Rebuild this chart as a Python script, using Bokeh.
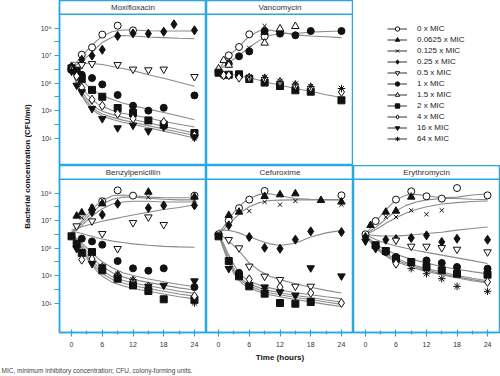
import numpy as np
from bokeh.plotting import figure
from bokeh.layouts import row, column
from bokeh.models import FixedTicker, Span, Legend, LegendItem, Range1d
from bokeh.core.properties import value
from bokeh.embed import file_html
from bokeh.resources import INLINE

N = None

# ---------------- data (log10 CFU/ml) ----------------
TIMES = [0, 1, 2, 4, 6, 9, 12, 15, 18, 20, 24]
FIT_TIMES = [0, 1, 2, 3, 4, 5, 6, 8, 10, 12, 15, 18, 21, 24]

SERIES_LABELS = ["0 x MIC", "0.0625 x MIC", "0.125 x MIC", "0.25 x MIC", "0.5 x MIC",
                 "1 x MIC", "1.5 x MIC", "2 x MIC", "4 x MIC", "16 x MIC", "64 x MIC"]
PANEL_TITLES = ["Moxifloxacin", "Vancomycin", "Benzylpenicillin", "Cefuroxime", "Erythromycin"]
X_TICKS = [0, 6, 12, 18, 24]
X_MINOR_TICKS = [3, 9, 15, 21]
Y_TICK_EXPONENTS = [1, 3, 5, 7, 9]
Y_TICK_LABELS = ["10\u00b9", "10\u00b3", "10\u2075", "10\u2077", "10\u2079"]
Y_MINOR_EXPONENTS = [2, 4, 6, 8]
Y_LABEL = "Bacterial concentration (CFU/ml)"
X_LABEL = "Time (hours)"
FOOTNOTE = "MIC, minimum inhibitory concentration; CFU, colony-forming units."

EMPTY = [N] * 11

MOX_POINTS = [
    [6.10, N, 7.06, 7.59, 8.52, 9.17, 8.83, N, N, N, N],
    EMPTY,
    EMPTY,
    [6.20, N, 6.70, 6.99, 7.42, 8.42, 8.61, 8.59, 8.73, 9.27, 8.83],
    [6.15, N, 6.33, 6.40, N, 6.33, 6.00, 5.95, 6.00, N, 5.46],
    [6.00, N, 5.60, 5.36, 4.90, 4.13, 3.35, 2.99, 3.20, N, 4.10],
    EMPTY,
    [6.04, 5.90, 5.30, 4.50, 4.00, 3.18, 2.82, 2.28, 1.97, N, 1.36],
    [5.95, 5.50, 4.66, 3.79, 3.35, 2.77, 2.41, N, 2.16, N, 1.20],
    [5.85, 4.83, 4.35, 3.13, 2.40, 1.73, 1.92, 1.51, 1.80, N, 1.07],
    [5.90, N, N, N, N, N, N, N, N, N, 1.00],
]
MOX_FITS = [
    [6.10, 6.50, 6.95, 7.35, 7.75, 8.10, 8.40, 8.75, 8.85, 8.85, 8.80, 8.78, 8.78, 8.78],
    [6.10, 6.35, 6.60, 6.90, 7.20, 7.60, 7.95, 8.35, 8.45, 8.42, 8.35, 8.30, 8.25, 8.22],
    [6.50, 6.50, 6.45, 6.42, 6.40, 6.38, 6.35, 6.20, 6.05, 5.90, 5.60, 5.35, 5.05, 4.76],
    [6.00, 5.60, 5.20, 4.85, 4.55, 4.30, 4.10, 3.80, 3.55, 3.35, 3.10, 2.85, 2.60, 2.33],
    [6.00, 5.30, 4.70, 4.20, 3.80, 3.50, 3.30, 3.00, 2.80, 2.65, 2.45, 2.20, 2.00, 1.80],
    [6.00, 5.10, 4.40, 3.85, 3.45, 3.15, 2.95, 2.70, 2.50, 2.35, 2.10, 1.85, 1.60, 1.36],
    [6.00, 5.00, 4.20, 3.65, 3.25, 2.95, 2.75, 2.50, 2.30, 2.15, 1.90, 1.65, 1.42, 1.20],
    [6.00, 4.90, 4.05, 3.50, 3.10, 2.80, 2.60, 2.35, 2.15, 2.00, 1.75, 1.50, 1.25, 1.00],
]

VAN_POINTS = [
    [5.80, 5.56, 7.01, 7.62, 8.54, 8.39, N, N, N, N, N],
    [N, N, N, N, N, 8.70, 8.88, N, N, N, N],
    [N, N, 6.65, N, 7.55, 9.15, N, N, N, N, N],
    EMPTY,
    EMPTY,
    [N, N, 6.40, 6.94, 7.30, 8.78, 8.59, 8.47, 8.78, N, 8.78],
    [6.04, 6.65, 6.30, N, N, 7.91, 8.95, 9.12, N, N, N],
    [5.75, N, 5.60, 5.63, 5.29, 5.03, 4.78, 4.47, 4.37, N, 3.74],
    [N, 5.56, 5.56, 5.39, 5.39, 5.32, 5.07, 4.83, 4.66, N, 4.35],
    EMPTY,
    [N, N, N, N, 5.45, 5.40, 5.12, 4.92, 4.75, N, 4.60],
]
VAN_FITS = [
    [5.90, 6.50, 7.00, 7.30, 7.60, 8.05, 8.40, 8.80, 8.85, 8.70, 8.50, 8.42, 8.36, 8.30],
    [5.90, 6.20, 6.50, 6.75, 7.00, 7.30, 7.60, 8.10, 8.45, 8.60, 8.60, 8.70, 8.75, 8.78],
    [5.85, 5.75, 5.65, 5.60, 5.55, 5.45, 5.38, 5.20, 5.00, 4.85, 4.60, 4.40, 4.15, 3.95],
]

BZ_POINTS = [
    [N, N, N, N, 8.40, 9.19, 8.81, N, N, N, 8.81],
    [N, 7.33, 7.57, 7.90, 8.22, N, N, 9.07, N, N, 8.71],
    [N, 6.60, 7.20, 8.00, 8.50, N, N, 8.70, N, N, 8.50],
    [N, N, N, 7.62, 7.42, 8.22, N, 7.91, 8.10, N, 8.10],
    [N, 6.60, N, 6.96, 6.04, 4.95, 6.84, 7.25, 6.70, N, N],
    [N, N, 5.68, 5.48, 5.24, 4.05, 3.52, 3.35, 3.52, N, 2.16],
    EMPTY,
    [5.85, 5.30, 4.64, 4.71, 3.38, 2.77, 2.28, 1.87, 1.27, N, 1.24],
    [N, N, 4.15, 4.20, 3.60, 3.00, 2.60, 2.20, N, N, 1.50],
    [N, 4.95, N, 3.86, 3.62, 2.84, 2.36, 2.21, 2.28, N, 2.60],
    [N, N, N, N, 3.50, 3.10, 2.70, N, N, N, 1.00],
]
BZ_FITS = [
    [6.10, 6.50, 6.95, 7.40, 7.80, 8.15, 8.45, 8.80, 8.85, 8.80, 8.70, 8.65, 8.65, 8.65],
    [6.10, 6.40, 6.80, 7.20, 7.55, 7.90, 8.20, 8.55, 8.70, 8.70, 8.62, 8.55, 8.50, 8.50],
    [6.10, 6.35, 6.65, 7.00, 7.30, 7.60, 7.85, 8.20, 8.35, 8.40, 8.40, 8.35, 8.35, 8.35],
    [6.30, 6.40, 6.55, 6.65, 6.75, 6.85, 6.95, 7.10, 7.25, 7.40, 7.60, 7.80, 7.95, 8.15],
    [6.20, 6.15, 6.05, 5.95, 5.85, 5.75, 5.65, 5.50, 5.40, 5.30, 5.20, 5.12, 5.08, 5.05],
    [6.00, 5.70, 5.35, 5.00, 4.65, 4.30, 4.00, 3.55, 3.20, 3.00, 2.75, 2.55, 2.35, 2.20],
    [6.00, 5.60, 5.20, 4.75, 4.35, 3.95, 3.65, 3.20, 2.90, 2.70, 2.50, 2.30, 2.10, 1.95],
    [6.00, 5.55, 5.05, 4.55, 4.10, 3.70, 3.35, 2.90, 2.65, 2.45, 2.25, 2.05, 1.85, 1.70],
    [6.00, 5.50, 4.95, 4.40, 3.90, 3.50, 3.15, 2.70, 2.45, 2.25, 2.05, 1.85, 1.65, 1.50],
    [6.00, 5.45, 4.85, 4.25, 3.75, 3.30, 2.95, 2.50, 2.25, 2.05, 1.85, 1.65, 1.45, 1.30],
]

CF_POINTS = [
    [6.00, N, 7.00, 7.90, 8.52, 9.15, N, N, N, N, 8.83],
    [N, N, 7.38, 7.62, N, 8.76, 8.88, 8.95, N, 8.47, 8.35],
    [N, N, N, N, 7.69, 8.35, 8.15, 8.42, N, N, 8.15],
    [N, N, 6.65, N, 5.80, 5.02, 4.95, 5.61, 6.21, N, 6.16],
    [N, N, 5.60, 5.00, 3.67, 2.94, 2.70, 2.21, 2.21, N, N],
    [N, N, N, 3.20, 2.28, N, N, N, N, N, N],
    EMPTY,
    [5.85, N, 4.05, 2.94, 2.21, 1.68, 1.00, 0.95, 1.07, N, N],
    [N, N, N, N, 2.72, N, 2.16, N, 1.73, N, 1.00],
    [N, N, 3.50, N, N, 2.16, 1.80, 1.56, 3.55, N, 2.96],
    [N, N, N, N, N, 2.04, N, N, N, N, N],
]
CF_FITS = [
    [6.00, 6.55, 7.10, 7.60, 8.00, 8.35, 8.60, 8.90, 8.95, 8.80, 8.60, 8.55, 8.52, 8.52],
    [6.00, 6.35, 6.75, 7.10, 7.45, 7.75, 8.00, 8.30, 8.45, 8.48, 8.50, 8.50, 8.50, 8.50],
    [6.30, 6.30, 6.28, 6.20, 6.10, 5.95, 5.82, 5.55, 5.30, 5.18, 5.35, 5.80, 6.10, 6.28],
    [6.00, 5.80, 5.50, 5.15, 4.80, 4.35, 3.90, 3.35, 2.95, 2.70, 2.40, 2.15, 1.92, 1.73],
    [6.00, 5.30, 4.50, 3.80, 3.20, 2.85, 2.60, 2.30, 2.10, 1.95, 1.75, 1.60, 1.45, 1.32],
    [6.00, 5.15, 4.25, 3.50, 2.95, 2.60, 2.40, 2.10, 1.90, 1.75, 1.55, 1.40, 1.22, 1.07],
    [6.00, 5.00, 4.05, 3.30, 2.80, 2.45, 2.25, 1.95, 1.75, 1.60, 1.40, 1.25, 1.07, 0.90],
    [6.00, 4.90, 3.90, 3.15, 2.65, 2.30, 2.10, 1.80, 1.60, 1.45, 1.25, 1.08, 0.90, 0.75],
]

ER_POINTS = [
    [6.00, N, 6.96, N, 8.52, 9.12, 8.76, 8.59, 9.36, N, 8.83],
    [N, 6.65, N, 7.62, 7.69, 8.71, N, N, N, N, N],
    [N, N, N, 7.25, 7.25, 7.74, 7.45, 7.74, N, N, N],
    [5.80, N, N, 5.60, 5.65, 5.73, 5.92, 5.44, 5.68, N, 5.60],
    [N, N, N, N, 5.56, 5.12, 5.12, 5.02, 4.90, N, 4.71],
    [N, N, 5.12, 4.71, 4.35, N, 4.10, 3.91, 3.62, N, 3.50],
    EMPTY,
    [N, N, 5.20, 4.78, 4.22, 3.98, 3.62, 3.38, 3.13, N, 3.06],
    [N, N, N, N, 3.86, N, N, N, N, N, 2.53],
    [5.50, N, 4.95, N, N, N, N, N, N, N, N],
    [N, N, N, N, N, 3.50, 3.13, 2.77, 2.21, N, 1.85],
]
ER_FITS = [
    [6.00, 6.45, 6.90, 7.35, 7.75, 8.15, 8.50, 8.85, 8.90, 8.80, 8.65, 8.70, 8.85, 8.95],
    [6.00, 6.25, 6.50, 6.80, 7.10, 7.40, 7.70, 8.10, 8.35, 8.50, 8.60, 8.60, 8.55, 8.52],
    [6.00, 6.15, 6.35, 6.55, 6.80, 7.00, 7.20, 7.55, 7.80, 8.00, 8.20, 8.30, 8.38, 8.42],
    [6.00, 5.95, 5.90, 5.88, 5.87, 5.87, 5.88, 5.92, 5.98, 6.05, 6.15, 6.30, 6.42, 6.53],
    [6.00, 5.80, 5.62, 5.48, 5.35, 5.25, 5.15, 4.98, 4.82, 4.68, 4.48, 4.28, 4.08, 3.87],
    [6.00, 5.60, 5.30, 5.05, 4.85, 4.70, 4.55, 4.30, 4.10, 3.90, 3.65, 3.45, 3.28, 3.12],
    [6.00, 5.50, 5.15, 4.85, 4.60, 4.40, 4.25, 3.95, 3.70, 3.50, 3.25, 3.00, 2.80, 2.62],
    [6.00, 5.45, 5.05, 4.75, 4.50, 4.30, 4.12, 3.85, 3.60, 3.40, 3.12, 2.90, 2.70, 2.52],
    [6.00, 5.40, 4.98, 4.68, 4.42, 4.20, 4.02, 3.75, 3.50, 3.30, 3.05, 2.82, 2.62, 2.45],
]

# ---------------- styles ----------------
FONT = "Liberation Sans"
BLUE = "#29a8e0"
INK = "#111111"
FIT_COLOR = "#8a8a8a"
MARKERS = ["circle", "triangle", "x", "diamond", "inverted_triangle", "circle",
           "triangle", "square", "diamond", "inverted_triangle", "asterisk"]
FILLED = [False, True, True, True, False, True, False, True, False, True, True]
SIZES = [7, 7.5, 6, 9, 7.5, 7, 7.5, 7, 9, 7.5, 7.5]

XLO, XHI = -2.35, 26.35
YTOP = 11.0
FW = 147


def style_y(p):
    ax = p.yaxis[0]
    ax.ticker = FixedTicker(ticks=[10.0 ** e for e in Y_TICK_EXPONENTS],
                            minor_ticks=[10.0 ** e for e in Y_MINOR_EXPONENTS])
    ax.major_label_overrides = {10.0 ** e: lab for e, lab in zip(Y_TICK_EXPONENTS, Y_TICK_LABELS)}
    ax.axis_line_color = BLUE
    ax.axis_line_width = 1.5
    ax.major_tick_line_color = BLUE
    ax.minor_tick_line_color = BLUE
    ax.major_tick_line_width = 1.2
    ax.minor_tick_line_width = 1.2
    ax.major_tick_in = 0
    ax.major_tick_out = 5
    ax.minor_tick_in = 0
    ax.minor_tick_out = 5
    ax.major_label_standoff = 3
    ax.major_label_text_font = FONT
    ax.major_label_text_font_size = "7px"
    ax.major_label_text_color = "#333333"


def style_x(p, label=None):
    ax = p.xaxis[0]
    ax.ticker = FixedTicker(ticks=X_TICKS, minor_ticks=X_MINOR_TICKS)
    ax.axis_line_color = BLUE
    ax.axis_line_width = 1.5
    ax.major_tick_line_color = BLUE
    ax.minor_tick_line_color = BLUE
    ax.major_tick_line_width = 1.2
    ax.minor_tick_line_width = 1.2
    ax.major_tick_in = 3
    ax.major_tick_out = 4
    ax.minor_tick_in = 2
    ax.minor_tick_out = 2
    ax.major_label_standoff = 5
    ax.major_label_text_font = FONT
    ax.major_label_text_font_size = "7px"
    ax.major_label_text_color = "#333333"
    if label:
        ax.axis_label = label
        ax.axis_label_standoff = 3
        ax.axis_label_text_font = FONT
        ax.axis_label_text_font_size = "8px"
        ax.axis_label_text_font_style = "bold"
        ax.axis_label_text_color = "#111111"


def build_panel(title, points, fits, ylo, fh, fw=FW, show_y=False, show_x=False,
                xlabel=None, mbl=0, mbr=0, mbb=0):
    p = figure(frame_width=fw, frame_height=fh,
               x_range=Range1d(XLO, XHI), y_range=Range1d(10 ** ylo, 10 ** YTOP),
               y_axis_type="log",
               x_axis_location="below" if show_x else None,
               y_axis_location="left" if show_y else None,
               min_border_left=mbl, min_border_right=mbr, min_border_top=0,
               min_border_bottom=mbb, toolbar_location=None, output_backend="svg",
               title=None)
    p.outline_line_color = BLUE
    p.outline_line_width = 1.5
    p.xgrid.grid_line_color = None
    p.ygrid.grid_line_color = None
    p.add_layout(Span(location=10.0 ** 10, dimension="width",
                      line_color=BLUE, line_width=1.5))
    p.text(x=[(XLO + XHI) / 2], y=[10 ** ((YTOP + 10) / 2)], text=[title],
           text_align="center", text_baseline="middle", text_font=value(FONT),
           text_font_size="8px", text_color="#333333")
    for f in fits:
        p.line(FIT_TIMES, 10 ** np.array(f, dtype=float), line_color=FIT_COLOR, line_width=1.1)
    t = np.array(TIMES, dtype=float)
    for i, vals in enumerate(points):
        arr = np.array(vals, dtype=float)
        m = ~np.isnan(arr)
        if not m.any():
            continue
        p.scatter(x=t[m], y=10 ** arr[m], marker=MARKERS[i], size=SIZES[i],
                  fill_color=INK if FILLED[i] else "white", line_color=INK, line_width=1)
    if show_y:
        style_y(p)
    if show_x:
        style_x(p, xlabel)
    return p


TOP_H = 165
BOT_H = 167
BOT_LO = YTOP - BOT_H / 13.75

f1 = build_panel(PANEL_TITLES[0], MOX_POINTS, MOX_FITS, -1.0, TOP_H, show_y=True, mbl=27)
f2 = build_panel(PANEL_TITLES[1], VAN_POINTS, VAN_FITS, -1.0, TOP_H)
f4 = build_panel(PANEL_TITLES[2], BZ_POINTS, BZ_FITS, BOT_LO, BOT_H, show_y=True, show_x=True, mbl=27, mbb=32)
f5 = build_panel(PANEL_TITLES[3], CF_POINTS, CF_FITS, BOT_LO, BOT_H, show_x=True, xlabel=X_LABEL, mbb=32)
f6 = build_panel(PANEL_TITLES[4], ER_POINTS, ER_FITS, BOT_LO, BOT_H, fw=146, show_x=True, mbr=1, mbb=32)

# legend panel: legend-only renderers hold NaN values so nothing is drawn in the frame
f3 = figure(frame_width=FW, frame_height=TOP_H, x_range=Range1d(0, 1), y_range=Range1d(0, 1),
            x_axis_location=None, y_axis_location=None, min_border=0,
            toolbar_location=None, output_backend="svg", title=None)
f3.outline_line_color = None
f3.xgrid.grid_line_color = None
f3.ygrid.grid_line_color = None
nan_y = [float("nan")] * len(TIMES)
items = []
for i, lab in enumerate(SERIES_LABELS):
    rl = f3.line(x=TIMES, y=nan_y, line_color="#333333", line_width=1)
    rm = f3.scatter(x=TIMES, y=nan_y, marker=MARKERS[i], size=SIZES[i],
                    fill_color=INK if FILLED[i] else "white", line_color=INK, line_width=1)
    items.append(LegendItem(label=lab, renderers=[rl, rm]))
legend = Legend(items=items, location=(34, 21), orientation="vertical",
                border_line_color=None, background_fill_alpha=0,
                glyph_width=20, glyph_height=11, label_height=11, spacing=0,
                padding=0, margin=0, label_standoff=10,
                label_text_font=FONT, label_text_font_size="8px",
                label_text_color="#222222", label_text_baseline="middle")
f3.add_layout(legend)

# y label strip
ylab = figure(frame_width=32, frame_height=TOP_H + BOT_H + 32, x_range=Range1d(0, 32),
              y_range=Range1d(0, TOP_H + BOT_H + 32), x_axis_location=None,
              y_axis_location=None, min_border=0, toolbar_location=None,
              output_backend="svg", title=None)
ylab.outline_line_color = None
ylab.xgrid.grid_line_color = None
ylab.ygrid.grid_line_color = None
ylab.text(x=[27], y=[TOP_H + BOT_H + 32 - 166], text=[Y_LABEL], angle=np.pi / 2,
          text_align="center", text_baseline="middle", text_font=value(FONT),
          text_font_size="8px", text_font_style="bold", text_color="#111111")

# footnote strip
foot = figure(frame_width=500, frame_height=12, x_range=Range1d(0, 500), y_range=Range1d(0, 12),
              x_axis_location=None, y_axis_location=None, min_border=0,
              toolbar_location=None, output_backend="svg", title=None)
foot.outline_line_color = None
foot.xgrid.grid_line_color = None
foot.ygrid.grid_line_color = None
foot.text(x=[1], y=[6], text=[FOOTNOTE], text_align="left", text_baseline="middle",
          text_font=value(FONT), text_font_size="6.5px", text_color="#444444")

layout = column(row(ylab, column(row(f1, f2, f3), row(f4, f5, f6))), foot)

with open("out.html", "w") as fh:
    fh.write(file_html(layout, INLINE))
